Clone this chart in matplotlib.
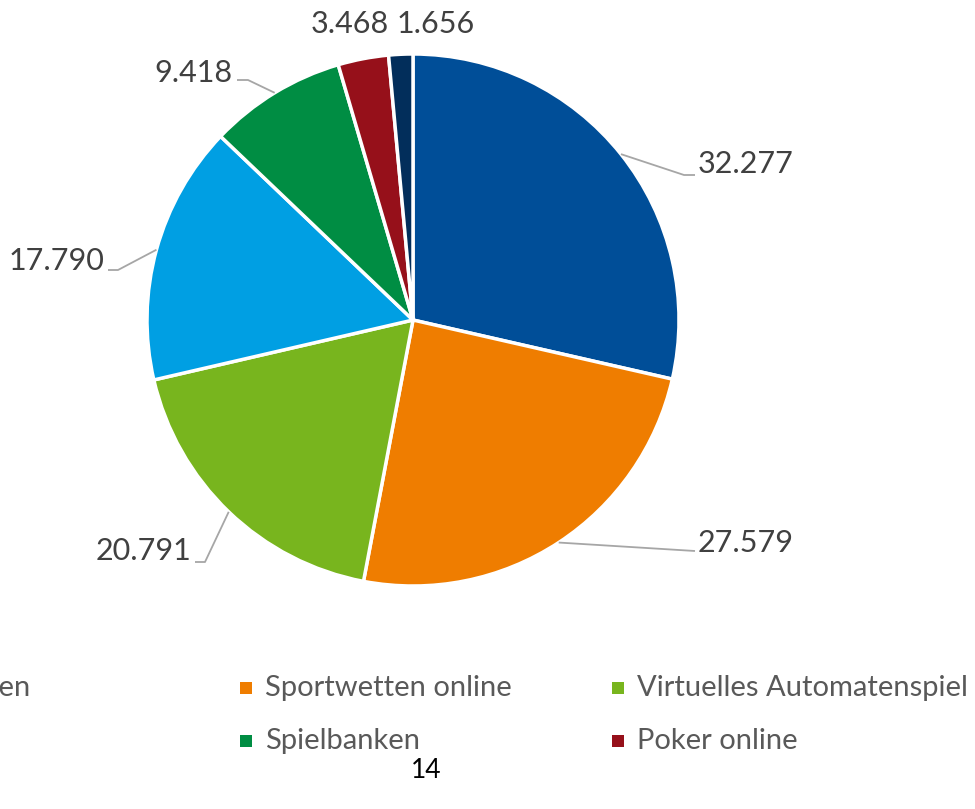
import matplotlib
matplotlib.use("Agg")
import matplotlib.pyplot as plt
from matplotlib.patches import Rectangle
import numpy as np

# ---- data ----
categories = ["Lotterien", "Sportwetten online", "Virtuelles Automatenspiel",
              "Spielhallen", "Spielbanken", "Poker online", "Online-Casinospiele"]
values = [32.277, 27.579, 20.791, 17.790, 9.418, 3.468, 1.656]
value_labels = ["32.277", "27.579", "20.791", "17.790", "9.418", "3.468", "1.656"]
colors = ["#004E98", "#EF7D00", "#78B51E", "#009FE3", "#008D43", "#96101A", "#022E5B"]

W, H = 975, 809
plt.rcParams['font.family'] = ['Lato', 'DejaVu Sans']

fig = plt.figure(figsize=(W / 100, H / 100), dpi=100)
ax = fig.add_axes([0, 0, 1, 1])

def P(x, y):
    """top-down pixel coords -> data coords"""
    return x, H - y

cx, cy = P(413, 320)
R = 266
wedges, _ = ax.pie(values, colors=colors, startangle=90, counterclock=False,
                   center=(cx, cy), radius=R,
                   wedgeprops=dict(edgecolor="white", linewidth=2.5))
ax.set_xlim(0, W)
ax.set_ylim(0, H)
ax.set_aspect("equal")
ax.axis("off")

# label layout (pixel positions): text anchor, ha, elbow points of leader line (or None)
label_layout = [
    ((698, 164), "left", [(684, 175), (695, 175)]),
    ((698, 543), "left", [(695, 551)]),
    ((191, 551), "right", [(205, 562), (195, 562)]),
    ((104, 261), "right", [(118, 270), (108, 270)]),
    ((233, 73), "right", [(248, 80), (237, 80)]),
    ((389, 24), "right", None),
    ((397, 24), "left", None),
]
line_col = "#A6A6A6"
for w, lab, (pos, ha, elbow) in zip(wedges, value_labels, label_layout):
    tx, ty = P(*pos)
    ax.text(tx, ty, lab, ha=ha, va="center", fontsize=22, color="#404040")
    if elbow is not None:
        mid = np.deg2rad((w.theta1 + w.theta2) / 2)
        xs = [cx + R * np.cos(mid)]
        ys = [cy + R * np.sin(mid)]
        for ex, ey in elbow:
            px, py = P(ex, ey)
            xs.append(px)
            ys.append(py)
        ax.plot(xs, ys, color=line_col, lw=1.3, solid_capstyle="butt")

# legend (partially cut in the reference): only visible entries
legend_items = [
    (0, None, (31, 688)),     # "...en" at left edge, right-aligned text
    (1, (240, 688), None),
    (2, (612, 688), None),
    (4, (240, 741), None),
    (5, (612, 741), None),
]
leg_col = "#595959"
for idx, mpos, tpos in legend_items:
    if mpos is not None:
        mx, my = P(*mpos)
        ax.add_patch(Rectangle((mx, my - 6), 12, 12, color=colors[idx], lw=0))
        ax.text(mx + 25, my, categories[idx], ha="left", va="center",
                fontsize=21, color=leg_col)
    else:
        tx, ty = P(*tpos)
        ax.text(tx, ty, categories[idx], ha="right", va="center",
                fontsize=21, color=leg_col)

px, py = P(426, 771)
ax.text(px, py, "14", ha="center", va="center", fontsize=19, color="black")

fig.savefig("out.png", dpi=100)
